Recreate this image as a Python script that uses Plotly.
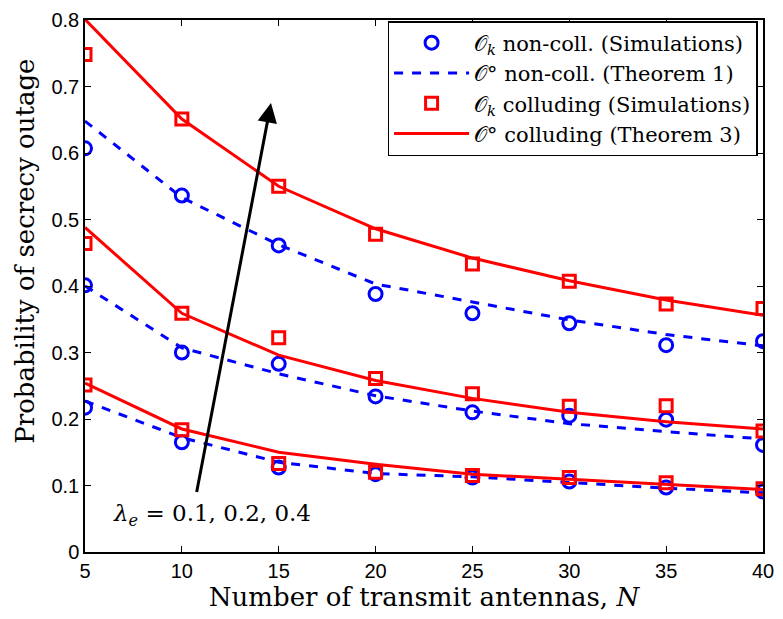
import plotly.graph_objects as go

N = [5, 10, 15, 20, 25, 30, 35, 40]

# lambda_e = 0.1, 0.2, 0.4
sim_noncoll = {
    0.1: [0.217, 0.165, 0.127, 0.117, 0.112, 0.106, 0.097, 0.091],
    0.2: [0.401, 0.300, 0.283, 0.234, 0.210, 0.205, 0.199, 0.161],
    0.4: [0.607, 0.536, 0.461, 0.388, 0.359, 0.344, 0.311, 0.317],
}
thm_noncoll = {
    0.1: [0.227, 0.172, 0.135, 0.118, 0.113, 0.104, 0.096, 0.089],
    0.2: [0.400, 0.307, 0.268, 0.235, 0.212, 0.193, 0.181, 0.170],
    0.4: [0.648, 0.533, 0.462, 0.403, 0.376, 0.349, 0.327, 0.310],
}
sim_coll = {
    0.1: [0.251, 0.184, 0.133, 0.120, 0.115, 0.112, 0.104, 0.095],
    0.2: [0.464, 0.359, 0.322, 0.261, 0.238, 0.219, 0.220, 0.182],
    0.4: [0.748, 0.651, 0.550, 0.478, 0.433, 0.407, 0.373, 0.366],
}
thm_coll = {
    0.1: [0.254, 0.185, 0.150, 0.132, 0.117, 0.109, 0.101, 0.094],
    0.2: [0.488, 0.359, 0.296, 0.258, 0.231, 0.210, 0.196, 0.185],
    0.4: [0.801, 0.651, 0.550, 0.486, 0.442, 0.408, 0.379, 0.356],
}
lambdas = [0.1, 0.2, 0.4]

legend_names = [
    "𝒪<sub><i>k</i></sub> non-coll. (Simulations)",
    "𝒪° non-coll. (Theorem 1)",
    "𝒪<sub><i>k</i></sub> colluding (Simulations)",
    "𝒪° colluding (Theorem 3)",
]

BLUE = "#0000ff"
RED = "#ff0000"
SERIF = "DejaVu Serif"

fig = go.Figure()
for i, lam in enumerate(lambdas):
    first = i == 0
    fig.add_trace(go.Scatter(
        x=N, y=sim_noncoll[lam], mode="markers", name=legend_names[0],
        legendgroup="a", showlegend=first, legendrank=1,
        marker=dict(symbol="circle-open", size=13, color=BLUE, line=dict(width=3, color=BLUE)),
    ))
    fig.add_trace(go.Scatter(
        x=N, y=thm_noncoll[lam], mode="lines", name=legend_names[1],
        legendgroup="b", showlegend=first, legendrank=2,
        line=dict(color=BLUE, width=3, dash="dash"),
    ))
    fig.add_trace(go.Scatter(
        x=N, y=sim_coll[lam], mode="markers", name=legend_names[2],
        legendgroup="c", showlegend=first, legendrank=3,
        marker=dict(symbol="square-open", size=12, color=RED, line=dict(width=3, color=RED)),
    ))
    fig.add_trace(go.Scatter(
        x=N, y=thm_coll[lam], mode="lines", name=legend_names[3],
        legendgroup="d", showlegend=first, legendrank=4,
        line=dict(color=RED, width=3),
    ))

fig.add_annotation(
    x=14.6, y=0.675, ax=10.75, ay=0.088, xref="x", yref="y", axref="x", ayref="y",
    showarrow=True, arrowhead=2, arrowsize=1.3, arrowwidth=3, arrowcolor="black", text="",
)
fig.add_annotation(
    x=6.33, y=0.055, xref="x", yref="y", showarrow=False, xanchor="left", yanchor="middle",
    text="<i>λ<sub>e</sub></i> = 0.1, 0.2, 0.4",
    font=dict(family=SERIF, size=23, color="black"),
)
fig.add_annotation(
    x=-0.088, y=0.565, xref="paper", yref="paper", showarrow=False, textangle=-90,
    xanchor="center", yanchor="middle",
    text="Probability of secrecy outage",
    font=dict(family=SERIF, size=26, color="black"),
)

axis_common = dict(
    showline=True, linecolor="black", linewidth=1.5, mirror="ticks",
    ticks="inside", ticklen=6, tickcolor="black", showgrid=False, zeroline=False,
    tickfont=dict(family="Liberation Sans", size=20, color="black"),
)
fig.update_xaxes(range=[5, 40], dtick=5, **axis_common,
                 title=dict(text="Number of transmit antennas, <i>N</i>", standoff=2,
                            font=dict(family=SERIF, size=26, color="black")))
fig.update_yaxes(range=[0, 0.8], dtick=0.1, tickformat="~g", **axis_common)

fig.update_layout(
    width=783, height=619, margin=dict(l=85, r=14, t=9, b=67),
    paper_bgcolor="white", plot_bgcolor="white",
    legend=dict(x=0.992, y=0.998, xanchor="right", yanchor="top",
                bgcolor="white", bordercolor="black", borderwidth=1.5,
                font=dict(family=SERIF, size=21, color="black"),
                tracegroupgap=0, itemwidth=75),
)

fig.write_html("out.html")
